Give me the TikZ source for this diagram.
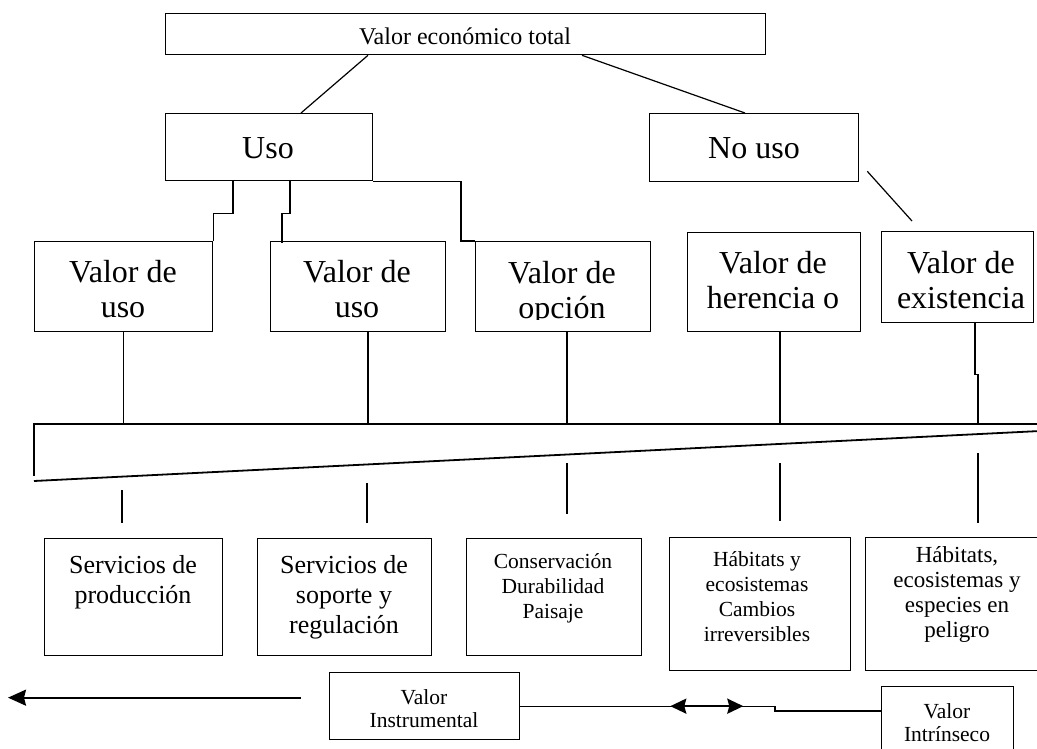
\documentclass[tikz,border=0pt]{standalone}
\usepackage{fontspec}
\setmainfont{Liberation Serif}
\usetikzlibrary{calc,arrows.meta}
\newcommand{\fsz}[2]{\fontsize{#1}{#2}\selectfont}
\newcommand{\ml}[1]{\begin{tabular}[t]{@{}c@{}}#1\end{tabular}}
\begin{document}
\begin{tikzpicture}[x=1pt,y=-1pt,
  box/.style={draw, line width=1.3pt, inner sep=0pt, anchor=north west},
  txt/.style={anchor=base, inner sep=0pt},
  ln/.style={line width=1.2pt},
  wedge/.style={line width=1.8pt},
  arr/.style={line width=2pt, -{Stealth[length=18pt,width=16pt,inset=2pt]}},
  dbl/.style={line width=2.2pt, {Stealth[length=16pt,width=15pt,inset=2pt]}-{Stealth[length=16pt,width=15pt,inset=2pt]}}]
\useasboundingbox (0,0) rectangle (1037,748);
\clip (0,0) rectangle (1037,748);
% top
\node[box, minimum width=600pt, minimum height=41pt] (vet) at (165,13) {};
\node[txt] (vett) at (465,44) {\fsz{24}{27}Valor económico total};
% level 2
\node[box, minimum width=207pt, minimum height=67pt] (uso) at (165,113) {};
\node[txt] (usot) at (268,158) {\fsz{32}{35}Uso};
\node[box, minimum width=209pt, minimum height=68pt] (nouso) at (649,113) {};
\node[txt] (nousot) at (754,158) {\fsz{32}{35}No uso};
% level 3
\node[box, minimum width=178pt, minimum height=90pt] (vu1) at (34,241) {};
\node[txt] (vu1t) at (123,282) {\fsz{32}{35}\ml{Valor de\\uso}};
\node[box, minimum width=175pt, minimum height=90pt] (vu2) at (270,241) {};
\node[txt] (vu2t) at (357,282) {\fsz{32}{35}\ml{Valor de\\uso}};
\node[box, minimum width=175pt, minimum height=90pt] (opc) at (475,241) {};
\begin{scope}
\clip (475,241) rectangle (650,319);
\node[txt] (opct) at (562,283) {\fsz{32}{35}\ml{Valor de\\opción}};
\end{scope}
\node[box, minimum width=173pt, minimum height=99pt] (her) at (687,232) {};
\node[txt] (hert) at (773,273) {\fsz{32}{35}\ml{Valor de\\herencia o}};
\node[box, minimum width=152pt, minimum height=91pt] (exi) at (881,231) {};
\node[txt] (exit) at (961,273) {\fsz{32}{35}\ml{Valor de\\existencia}};
% level 4
\node[box, minimum width=178pt, minimum height=117pt] (sp) at (44,538) {};
\node[txt] (spt) at (133,573) {\fsz{26}{30}\ml{Servicios de\\producción}};
\node[box, minimum width=174pt, minimum height=117pt] (ss) at (257,538) {};
\node[txt] (sst) at (344,573) {\fsz{26}{30}\ml{Servicios de\\soporte y\\regulación}};
\node[box, minimum width=175pt, minimum height=117pt] (cdp) at (466,538) {};
\node[txt] (cdpt) at (553,568) {\fsz{21.5}{25}\ml{Conservación\\Durabilidad\\Paisaje}};
\node[box, minimum width=181pt, minimum height=133pt] (hab) at (669,537) {};
\node[txt] (habt) at (757,566) {\fsz{21.5}{25}\ml{Hábitats y\\ecosistemas\\Cambios\\irreversibles}};
\node[box, minimum width=184pt, minimum height=133pt] (hab2) at (865,537) {};
\node[txt] (hab2t) at (957,562) {\fsz{23}{25}\ml{Hábitats,\\ecosistemas y\\especies en\\peligro}};
% bottom
\node[box, minimum width=190pt, minimum height=67pt] (vi) at (329,672) {};
\node[txt] (vit) at (424,704) {\fsz{21.5}{23}\ml{Valor\\Instrumental}};
\node[box, minimum width=132pt, minimum height=80pt] (vin) at (881,686) {};
\node[txt] (vint) at (947,718) {\fsz{21.5}{23}\ml{Valor\\Intrínseco}};
% connectors top
\draw[ln] ($(vet.south west)+(203,0)$) -- ($(uso.north west)+(136,0)$);
\draw[ln] ($(vet.south west)+(417,0)$) -- ($(nouso.north west)+(96,0)$);
\draw[ln] ($(nouso.south east)+(8,-11)$) -- ($(exi.north west)+(31,-10)$);
\draw[ln] ($(uso.south west)+(68,0)$) -- ++(0,32) -| (vu1.north east);
\draw[ln] ($(uso.south west)+(125,0)$) -- ++(0,32) -| ($(vu2.north west)+(12,2)$);
\draw[ln] (uso.south east) -| ($(opc.north west)+(-14,0)$) -- (opc.north west);
% wedge
\coordinate (wl) at (34,424);
\coordinate (wr) at (1040,424);
\coordinate (wb) at (34,476);
\coordinate (sl) at (34,481);
\coordinate (sr) at (1040,431);
\draw[wedge] (wr) -- (wl) -- (wb);
\draw[wedge] (sl) -- (sr);
% drops
\draw[ln] (vu1.south) -- (vu1.south |- wl);
\draw[ln] ($(vu2.south west)+(98,0)$) coordinate (d2) -- (d2 |- wl);
\draw[ln] ($(opc.south west)+(92,0)$) coordinate (d3) -- (d3 |- wl);
\draw[ln] ($(her.south west)+(93,0)$) coordinate (d4) -- (d4 |- wl);
\draw[ln] ($(exi.south west)+(94,0)$) -- ++(0,51) -- ++(3,0) coordinate (d5) -- (d5 |- wl);
% stubs
\draw[ln] ($(sp.north west)+(78,-48)$) -- ($(sp.north west)+(78,-15)$);
\draw[ln] ($(ss.north west)+(110,-55)$) -- ($(ss.north west)+(110,-15)$);
\draw[ln] ($(cdp.north west)+(101,-75)$) -- ($(cdp.north west)+(101,-24)$);
\draw[ln] ($(hab.north west)+(111,-74)$) -- ($(hab.north west)+(111,-16)$);
\draw[ln] ($(hab2.north west)+(113,-84)$) -- ($(hab2.north west)+(113,-14)$);
% bottom arrows
\draw[arr] ($(vi.west)+(-28,-8.5)$) -- ++(-293,0);
\draw[ln] (vi.east) -| ($(vin.north west)+(-106,25)$) -- ($(vin.north west)+(0,25)$);
\draw[dbl] ($(vi.east)+(150,0)$) -- ($(vi.east)+(223,0)$);
\end{tikzpicture}
\end{document}
